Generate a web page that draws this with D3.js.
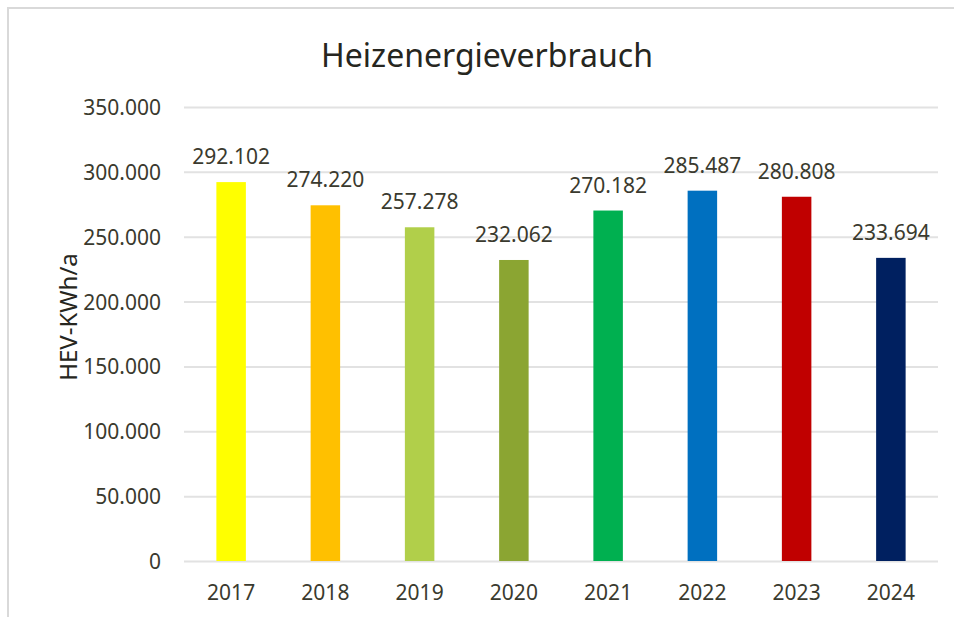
<!DOCTYPE html>
<html>
<head>
<meta charset="utf-8">
<script src="https://cdn.jsdelivr.net/npm/d3@7"></script>
<style>
    body { margin: 0; background: #fff; }
    svg { display: block; font-family: "Noto Sans", sans-serif; }
    .tick text { fill: #3a3a2e; font-size: 21px; font-family: "Noto Sans", sans-serif; }
    .grid line { stroke: #e2e2e2; stroke-width: 2; }
    .grid path { display: none; }
    .label { fill: #3a3a2e; font-size: 21px; }
    .axis-title { fill: #262620; font-size: 24px; }
    .title { fill: #262620; font-size: 32px; }
</style>
</head>
<body>
<svg width="954" height="617"></svg>
<script>
const years = ['2017', '2018', '2019', '2020', '2021', '2022', '2023', '2024'];
const values = [292102, 274220, 257278, 232062, 270182, 285487, 280808, 233694];
const colors = ['#ffff00', '#ffc000', '#b1cf4a', '#8ba532', '#00b050', '#0070c0', '#c00000', '#002060'];
const yTicks = [0, 50000, 100000, 150000, 200000, 250000, 300000, 350000];

const data = years.map((y, i) => ({ year: y, value: values[i], color: colors[i] }));

const svg = d3.select('svg');

// chart border
svg.append('rect')
    .attr('x', 8)
    .attr('y', 8)
    .attr('width', 960)
    .attr('height', 620)
    .attr('fill', 'none')
    .attr('stroke', '#d9d9d9')
    .attr('stroke-width', 2);

const plotLeft = 184, plotRight = 938, plotTop = 107, plotBottom = 561;

const fmt = (v) => v === 0 ? '0' : d3.format(',.0f')(v).replace(/,/g, '.');

const xScale = d3.scaleBand()
    .range([plotLeft, plotRight])
    .domain(years)
    .paddingInner(0.687)
    .paddingOuter(0.3435);

const yScale = d3.scaleLinear()
    .range([plotBottom, plotTop])
    .domain([0, 350000]);

// grid lines with tick labels
const yAxis = svg.append('g')
    .attr('class', 'grid')
    .attr('transform', `translate(${plotLeft}, 0)`)
    .call(d3.axisLeft(yScale)
        .tickValues(yTicks)
        .tickSize(-(plotRight - plotLeft))
        .tickPadding(23)
        .tickFormat(fmt));
yAxis.selectAll('.tick text').attr('dy', '0.36em');

const xAxis = svg.append('g')
    .attr('transform', `translate(0, ${plotBottom})`)
    .call(d3.axisBottom(xScale).tickSize(0).tickPadding(24));
xAxis.select('.domain').remove();
xAxis.selectAll('.tick text').attr('dy', '0.71em');

svg.selectAll('.bar')
    .data(data)
    .enter()
    .append('rect')
    .attr('class', 'bar')
    .attr('x', (d) => xScale(d.year))
    .attr('y', (d) => yScale(d.value))
    .attr('width', xScale.bandwidth())
    .attr('height', (d) => plotBottom - yScale(d.value))
    .attr('fill', (d) => d.color);

svg.selectAll('.value')
    .data(data)
    .enter()
    .append('text')
    .attr('class', 'label value')
    .attr('x', (d) => xScale(d.year) + xScale.bandwidth() / 2)
    .attr('y', (d) => yScale(d.value) - 18)
    .attr('text-anchor', 'middle')
    .text((d) => fmt(d.value));

svg.append('text')
    .attr('class', 'axis-title')
    .attr('x', -317)
    .attr('y', 77)
    .attr('transform', 'rotate(-90)')
    .attr('text-anchor', 'middle')
    .text('HEV-KWh/a');

svg.append('text')
    .attr('class', 'title')
    .attr('x', 487)
    .attr('y', 67)
    .attr('text-anchor', 'middle')
    .text('Heizenergieverbrauch');
</script>
</body>
</html>
